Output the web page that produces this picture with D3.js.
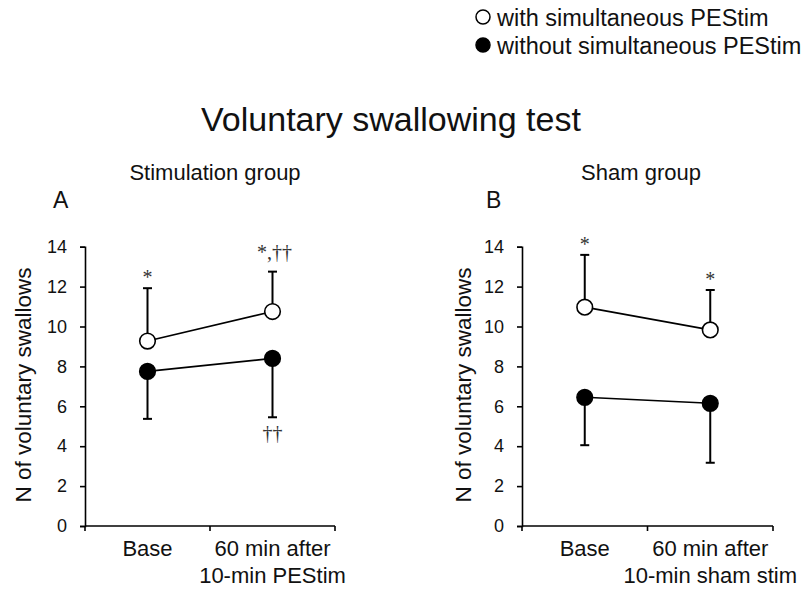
<!DOCTYPE html>
<html>
<head>
<meta charset="utf-8">
<script src="https://cdn.jsdelivr.net/npm/d3@7"></script>
<style>
  body { margin: 0; background: #fff; }
  svg text { font-family: "Liberation Sans", Arial, sans-serif; fill: #111; }
  .mark { font-family: "Liberation Serif", "Times New Roman", serif !important; fill: #333; }
</style>
</head>
<body>
<div id="chart"></div>
<script>
// values
const yTicks = [0, 2, 4, 6, 8, 10, 12, 14];

const xLabelsA = [["Base"], ["60 min after", "10-min PEStim"]];
const withMeanA = [9.27, 10.75];
const withSdA = [2.65, 2.0];
const withoutMeanA = [7.75, 8.4];
const withoutSdA = [2.38, 2.95];
const withMarksA = ["*", "*,††"];
const withoutMarksA = ["", "††"];

const xLabelsB = [["Base"], ["60 min after", "10-min sham stim"]];
const withMeanB = [10.97, 9.83];
const withSdB = [2.62, 2.0];
const withoutMeanB = [6.45, 6.15];
const withoutSdB = [2.4, 2.98];
const withMarksB = ["*", "*"];
const withoutMarksB = ["", ""];

const legendLabels = ["with simultaneous PEStim", "without simultaneous PEStim"];

const W = 804, H = 590;
const svg = d3.select("#chart").append("svg")
  .attr("width", W).attr("height", H);

// title + legend
svg.append("text")
  .attr("x", 391).attr("y", 131)
  .attr("text-anchor", "middle")
  .style("font-size", "34px")
  .text("Voluntary swallowing test");

const legend = svg.append("g");
legendLabels.forEach((lab, i) => {
  const g = legend.append("g").attr("transform", `translate(483, ${17 + i * 28})`);
  g.append("circle").attr("r", 7)
    .attr("fill", i === 0 ? "#fff" : "#000")
    .attr("stroke", "#000").attr("stroke-width", 1.5);
  g.append("text").attr("x", 14).attr("y", 9)
    .style("font-size", "23.5px").text(lab);
});

function drawPanel(opt) {
  const y = d3.scaleLinear().domain([0, 14]).range([526, 246.7]);
  const x = d3.scalePoint().domain([0, 1]).range([opt.x0, opt.x1]).padding(0.5);

  svg.append("text").attr("x", opt.letterX).attr("y", 208)
    .style("font-size", "23px").text(opt.letter);
  svg.append("text").attr("x", opt.subX).attr("y", 180)
    .attr("text-anchor", "middle")
    .style("font-size", "22px").text(opt.sub);

  // y axis
  const ya = svg.append("g")
    .attr("transform", `translate(${opt.x0},0)`)
    .call(d3.axisLeft(y).tickValues(yTicks).tickSize(5).tickPadding(13));
  ya.selectAll("text").style("font-size", "18px").attr("fill", "#111");

  // x axis (ticks at the band edges)
  const xa = svg.append("g").attr("transform", "translate(0,526)");
  xa.append("line").attr("x1", opt.x0).attr("x2", opt.x1)
    .attr("stroke", "#000");
  xa.selectAll(".xt").data([0, 1, 2]).enter().append("line")
    .attr("x1", d => opt.x0 + d * (opt.x1 - opt.x0) / 2)
    .attr("x2", d => opt.x0 + d * (opt.x1 - opt.x0) / 2)
    .attr("y1", 0).attr("y2", 5).attr("stroke", "#000");
  svg.selectAll("path.domain, .tick line").attr("stroke", "#000").attr("stroke-width", 1.6);
  xa.selectAll("line").attr("stroke-width", 1.6);

  opt.labels.forEach((lines, i) => {
    lines.forEach((ln, j) => {
      svg.append("text")
        .attr("x", x(i)).attr("y", 556 + j * 27)
        .attr("text-anchor", "middle")
        .style("font-size", "22px").text(ln);
    });
  });

  const idx = [0, 1];
  const lineGen = d3.line().x(i => x(i));

  // error bars: open series upward, filled series downward
  const bars = svg.append("g").attr("stroke", "#000").attr("stroke-width", 2);
  idx.forEach(i => {
    const up = opt.withMean[i] + opt.withSd[i];
    bars.append("line").attr("x1", x(i)).attr("x2", x(i))
      .attr("y1", y(opt.withMean[i])).attr("y2", y(up));
    bars.append("line").attr("x1", x(i) - 4.5).attr("x2", x(i) + 4.5)
      .attr("y1", y(up)).attr("y2", y(up));
    const dn = opt.withoutMean[i] - opt.withoutSd[i];
    bars.append("line").attr("x1", x(i)).attr("x2", x(i))
      .attr("y1", y(opt.withoutMean[i])).attr("y2", y(dn));
    bars.append("line").attr("x1", x(i) - 4.5).attr("x2", x(i) + 4.5)
      .attr("y1", y(dn)).attr("y2", y(dn));
  });

  svg.append("path")
    .attr("d", lineGen.y(i => y(opt.withMean[i]))(idx))
    .attr("fill", "none").attr("stroke", "#000").attr("stroke-width", 1.6);
  svg.append("path")
    .attr("d", lineGen.y(i => y(opt.withoutMean[i]))(idx))
    .attr("fill", "none").attr("stroke", "#000").attr("stroke-width", 1.6);

  svg.selectAll(null).data(idx).enter().append("circle")
    .attr("cx", i => x(i)).attr("cy", i => y(opt.withMean[i]))
    .attr("r", 7.8).attr("fill", "#fff").attr("stroke", "#000").attr("stroke-width", 1.6);
  svg.selectAll(null).data(idx).enter().append("circle")
    .attr("cx", i => x(i)).attr("cy", i => y(opt.withoutMean[i]))
    .attr("r", 7.8).attr("fill", "#000").attr("stroke", "#000").attr("stroke-width", 1.6);

  // significance marks
  idx.forEach(i => {
    const m = opt.withMarks[i];
    if (m) {
      svg.append("text").attr("class", "mark")
        .attr("x", x(i) + (m.length > 1 ? 2 : 0))
        .attr("y", y(opt.withMean[i] + opt.withSd[i]) - (m.length > 1 ? 13 : 4))
        .attr("text-anchor", "middle")
        .style("font-size", "20px").text(m);
    }
    const n = opt.withoutMarks[i];
    if (n) {
      svg.append("text").attr("class", "mark")
        .attr("x", x(i)).attr("y", y(opt.withoutMean[i] - opt.withoutSd[i]) + 23)
        .attr("text-anchor", "middle")
        .style("font-size", "20px").text(n);
    }
  });

  // y axis title
  svg.append("text")
    .attr("transform", `translate(${opt.ylabX},385) rotate(-90)`)
    .attr("text-anchor", "middle")
    .style("font-size", "22.5px").text("N of voluntary swallows");
}

drawPanel({
  x0: 85, x1: 335, letter: "A", letterX: 53, sub: "Stimulation group", subX: 215,
  ylabX: 31, labels: xLabelsA,
  withMean: withMeanA, withSd: withSdA, withoutMean: withoutMeanA, withoutSd: withoutSdA,
  withMarks: withMarksA, withoutMarks: withoutMarksA
});
drawPanel({
  x0: 522, x1: 773, letter: "B", letterX: 486, sub: "Sham group", subX: 641,
  ylabX: 471, labels: xLabelsB,
  withMean: withMeanB, withSd: withSdB, withoutMean: withoutMeanB, withoutSd: withoutSdB,
  withMarks: withMarksB, withoutMarks: withoutMarksB
});
</script>
</body>
</html>
